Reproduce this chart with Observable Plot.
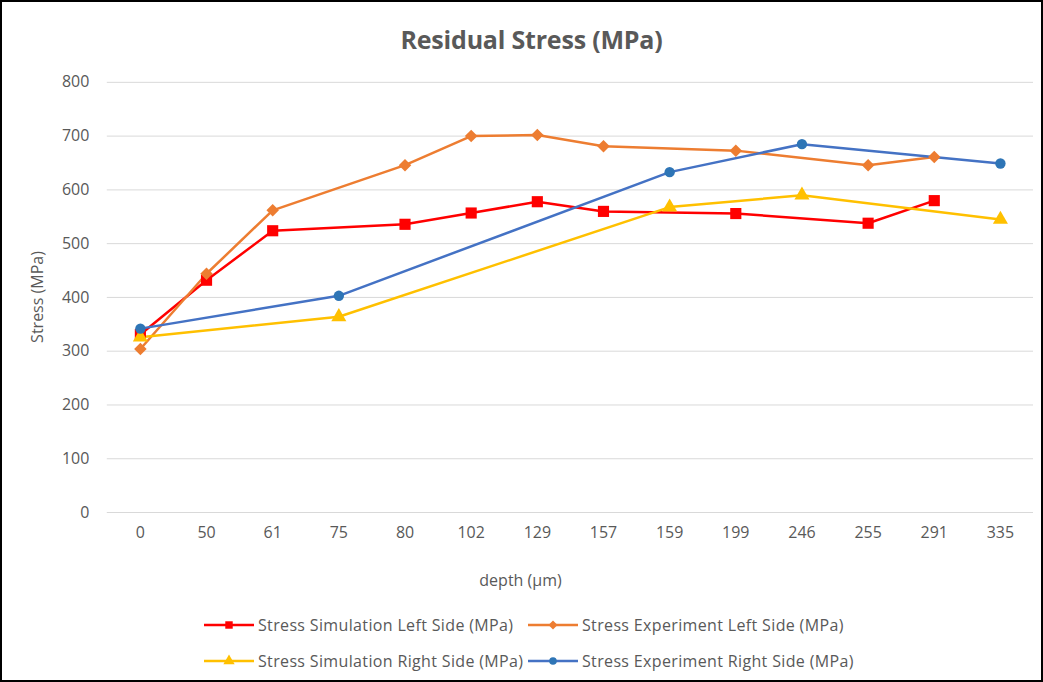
<!DOCTYPE html>
<html><head><meta charset="utf-8">
<script src="https://cdn.jsdelivr.net/npm/d3@7"></script>
<script src="https://cdn.jsdelivr.net/npm/@observablehq/plot@0.6"></script>
<style>
html,body{margin:0;padding:0;background:#fff;}
#wrap{position:relative;width:1039px;height:678px;border:2px solid #000;overflow:hidden;font-family:"Open Sans",Lato,sans-serif;color:#595959;}
#title{position:absolute;left:10px;width:1039px;top:20px;text-align:center;font-size:25px;font-weight:bold;color:#595959;letter-spacing:-0.2px;}
#chart{position:absolute;left:-2px;top:-2px;}
#xlab{position:absolute;left:-4px;width:1045px;top:567px;text-align:center;font-size:16px;}
#ylab{position:absolute;left:35px;top:295px;font-size:16px;transform:translate(-50%,-50%) rotate(-90deg);white-space:nowrap;}
.leg{position:absolute;font-size:16px;display:flex;align-items:center;white-space:nowrap;letter-spacing:0.35px;}
.leg svg{margin-right:3px;}
</style></head>
<body><div id="wrap"><div id="title">Residual Stress (MPa)</div><div id="chart"></div><div id="xlab">depth (µm)</div><div id="ylab">Stress (MPa)</div><div id="legend"></div></div>
<script>
const depths = ["0","50","61","75","80","102","129","157","159","199","246","255","291","335"];
const simLeft  = [331, 432, 524, null, 536, 557, 578, 560, null, 556, null, 538, 580, null];
const expLeft  = [304, 444, 562, null, 646, 700, 702, 681, null, 673, null, 646, 661, null];
const simRight = [326, null, null, 364, null, null, null, null, 568, null, 590, null, null, 545];
const expRight = [342, null, null, 403, null, null, null, null, 633, null, 685, null, null, 649];
const yTicks = [0,100,200,300,400,500,600,700,800];
const seriesNames = ["Stress Simulation Left Side (MPa)","Stress Experiment Left Side (MPa)","Stress Simulation Right Side (MPa)","Stress Experiment Right Side (MPa)"];
const seriesValues = [simLeft, expLeft, simRight, expRight];
const lineColors = ["#FF0000","#ED7D31","#FFC000","#4472C4"];
const markColors = ["#FF0000","#ED7D31","#FFC000","#2E75B6"];

const rhombus = {draw(context, size) {
  const r = Math.sqrt(size / 2);
  context.moveTo(0, -r); context.lineTo(r, 0); context.lineTo(0, r); context.lineTo(-r, 0); context.closePath();
}};
const symbols = [d3.symbolSquare, rhombus, d3.symbolTriangle, d3.symbolCircle];
const radii = [6.3, 5.0, 5.6, 5.2];
const legRadii = [4.2, 3.6, 4.2, 3.8];

const marks = [
  Plot.gridY(yTicks, {stroke:"#d9d9d9", strokeOpacity:1, strokeWidth:1}),
  Plot.axisY(yTicks, {tickSize:0, tickPadding:18, fontSize:16, fill:"#595959", label:null}),
  Plot.axisX(depths, {tickSize:0, tickPadding:14, fontSize:16, fill:"#595959", label:null})
];
seriesValues.forEach((vals, i) => {
  const d = depths.map((x, j) => ({x, y: vals[j]})).filter(p => p.y != null);
  marks.push(Plot.line(d, {x:"x", y:"y", stroke: lineColors[i], strokeWidth: 2.5}));
});
seriesValues.forEach((vals, i) => {
  const d = depths.map((x, j) => ({x, y: vals[j]})).filter(p => p.y != null);
  marks.push(Plot.dot(d, {x:"x", y:"y", symbol: symbols[i], fill: markColors[i], stroke:"none", r: radii[i]}));
});

const chart = Plot.plot({
  width: 1043, height: 600,
  marginLeft: 107, marginRight: 8, marginTop: 82, marginBottom: 87,
  style: {fontFamily: "'Open Sans', Lato, sans-serif", background: "transparent"},
  x: {type: "point", domain: depths, padding: 0.5, round: false, axis: null},
  y: {domain: [0, 800], axis: null},
  marks
});
document.getElementById("chart").appendChild(chart);

const legPos = [[201,611],[525,611],[201,647],[525,647]];
const leg = document.getElementById("legend");
seriesNames.forEach((name, i) => {
  const el = document.createElement("div");
  el.className = "leg";
  el.style.left = legPos[i][0] + "px";
  el.style.top = legPos[i][1] + "px";
  const s = d3.create("svg").attr("width", 52).attr("height", 24);
  s.append("line").attr("x1",1).attr("x2",51).attr("y1",12).attr("y2",12).attr("stroke", lineColors[i]).attr("stroke-width",2.5);
  s.append("path").attr("transform","translate(26,12)").attr("d", d3.symbol(symbols[i], Math.PI*legRadii[i]*legRadii[i])()).attr("fill", markColors[i]);
  el.appendChild(s.node());
  const t = document.createElement("span"); t.textContent = name; el.appendChild(t);
  leg.appendChild(el);
});
</script></body></html>
